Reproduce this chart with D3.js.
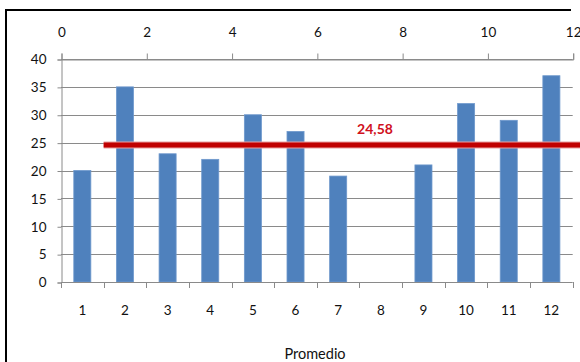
<!DOCTYPE html>
<html>
<head>
<meta charset="utf-8">
<script src="https://cdn.jsdelivr.net/npm/d3@7"></script>
<style>
  html, body { margin: 0; padding: 0; background: #fff; }
  svg { display: block; }
  text { font-family: Lato, "Open Sans", sans-serif; }
</style>
</head>
<body>
<svg id="chart" width="580" height="362"></svg>
<script>
// Monthly values (month 8 has no value)
const categories = [1, 2, 3, 4, 5, 6, 7, 8, 9, 10, 11, 12];
const values = [20, 35, 23, 22, 30, 27, 19, null, 21, 32, 29, 37];
const yTicks = [0, 5, 10, 15, 20, 25, 30, 35, 40];
const topTicks = [0, 2, 4, 6, 8, 10, 12];
// Average line, drawn against the secondary (top) axis
const averageValue = 24.58;
const averageX = [1, 13];
const axisTitle = "Promedio";

const svg = d3.select("#chart");
const W = 580, H = 362;
const plotLeft = 61, plotRight = 572.7, plotTop = 59, plotBottom = 282;
const gridColor = "#8a8a8a";
const textColor = "#111";
const tickFont = 13.5;

const x = d3.scaleBand().domain(categories).range([plotLeft, plotRight])
  .paddingInner(0.6).paddingOuter(0.3);
const xTop = d3.scaleLinear().domain([0, 12]).range([plotLeft, plotRight]);
const y = d3.scaleLinear().domain([0, 40]).range([plotBottom, plotTop]);

// outer frame
svg.append("path")
  .attr("d", `M6,${H} V10 H571`)
  .attr("fill", "none").attr("stroke", "#000").attr("stroke-width", 2);

// horizontal gridlines
svg.append("g").selectAll("line").data(yTicks.filter(d => d > 0)).join("line")
  .attr("x1", plotLeft).attr("x2", plotRight)
  .attr("y1", d => Math.round(y(d)) + 0.5).attr("y2", d => Math.round(y(d)) + 0.5)
  .attr("stroke", gridColor).attr("stroke-width", 1);

// left value axis
const yAxis = d3.axisLeft(y).tickValues(yTicks).tickSize(4).tickPadding(11)
  .tickFormat(d3.format("d"));
const gy = svg.append("g").attr("transform", `translate(${Math.round(plotLeft) + 0.5},0.5)`).call(yAxis);
gy.select(".domain").attr("stroke", gridColor);
gy.selectAll(".tick line").attr("stroke", gridColor);
gy.selectAll("text").attr("font-size", tickFont).attr("fill", textColor);

// top secondary axis
const topAxis = d3.axisTop(xTop).tickValues(topTicks).tickSize(6).tickPadding(17)
  .tickFormat(d3.format("d"));
const gt = svg.append("g").attr("transform", `translate(0.5,${Math.round(plotTop) + 0.5})`).call(topAxis);
gt.select(".domain").attr("stroke", gridColor);
gt.selectAll(".tick line").attr("stroke", gridColor);
gt.selectAll("text").attr("font-size", tickFont).attr("fill", textColor);

// bars
svg.append("g").selectAll("rect")
  .data(categories.map((c, i) => ({ c, v: values[i] })).filter(d => d.v != null))
  .join("rect")
  .attr("x", d => x(d.c)).attr("width", x.bandwidth())
  .attr("y", d => y(d.v)).attr("height", d => y(0) - y(d.v))
  .attr("fill", "#4f81bd").attr("stroke", "#6e98cc").attr("stroke-width", 0.8);

// bottom category axis: ticks at category boundaries, labels centred in each slot
const gb = svg.append("g");
gb.append("line").attr("x1", plotLeft).attr("x2", plotRight)
  .attr("y1", Math.round(plotBottom) + 0.5).attr("y2", Math.round(plotBottom) + 0.5)
  .attr("stroke", gridColor);
gb.selectAll("line.tick").data(d3.range(0, 13)).join("line").attr("class", "tick")
  .attr("x1", d => Math.round(xTop(d)) + 0.5).attr("x2", d => Math.round(xTop(d)) + 0.5)
  .attr("y1", plotBottom).attr("y2", plotBottom + 6)
  .attr("stroke", gridColor);
gb.selectAll("text").data(categories).join("text")
  .attr("x", d => x(d) + x.bandwidth() / 2).attr("y", 315)
  .attr("text-anchor", "middle").attr("font-size", tickFont).attr("fill", textColor)
  .text(d => d);

// average line
const lineGen = d3.line().x(d => xTop(d)).y(() => y(averageValue));
svg.append("path").datum(averageX)
  .attr("d", lineGen).attr("fill", "none")
  .attr("stroke", "#e8a0a0").attr("stroke-width", 7);
svg.append("path").datum(averageX)
  .attr("d", lineGen).attr("fill", "none")
  .attr("stroke", "#c00000").attr("stroke-width", 5);

// average label
svg.append("text")
  .attr("x", 375).attr("y", y(averageValue) - 11)
  .attr("text-anchor", "middle").attr("font-size", 14).attr("font-weight", "bold")
  .attr("fill", "#d01020")
  .text(d3.format(".2f")(averageValue).replace(".", ","));

// axis title
svg.append("text")
  .attr("x", 315).attr("y", 359)
  .attr("text-anchor", "middle").attr("font-size", 14.5).attr("fill", textColor)
  .text(axisTitle);
</script>
</body>
</html>
